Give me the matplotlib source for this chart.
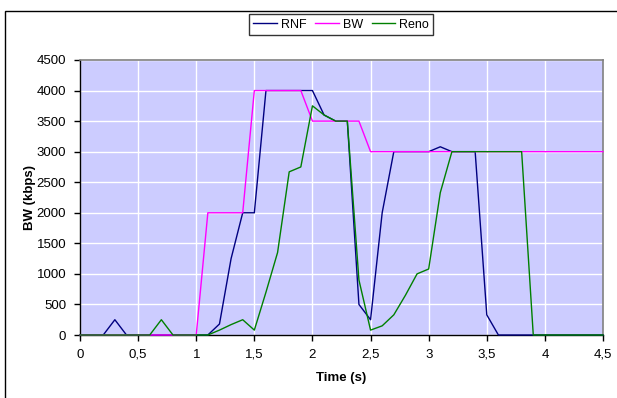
import matplotlib.pyplot as plt
from matplotlib.patches import Rectangle

plt.rcParams['font.family'] = ['Liberation Sans', 'DejaVu Sans']

# time axis (s), one sample every 0.1 s
time = [0.0, 0.1, 0.2, 0.3, 0.4, 0.5, 0.6, 0.7, 0.8, 0.9,
        1.0, 1.1, 1.2, 1.3, 1.4, 1.5, 1.6, 1.7, 1.8, 1.9,
        2.0, 2.1, 2.2, 2.3, 2.4, 2.5, 2.6, 2.7, 2.8, 2.9,
        3.0, 3.1, 3.2, 3.3, 3.4, 3.5, 3.6, 3.7, 3.8, 3.9,
        4.0, 4.1, 4.2, 4.3, 4.4, 4.5]

# bandwidth series (kbps)
rnf = [0, 0, 0, 250, 0, 0, 0, 0, 0, 0,
       0, 0, 180, 1250, 2000, 2000, 4000, 4000, 4000, 4000,
       4000, 3600, 3500, 3500, 500, 250, 2000, 3000, 3000, 3000,
       3000, 3080, 3000, 3000, 3000, 330, 0, 0, 0, 0,
       0, 0, 0, 0, 0, 0]
bw = [0, 0, 0, 0, 0, 0, 0, 0, 0, 0,
      0, 2000, 2000, 2000, 2000, 4000, 4000, 4000, 4000, 4000,
      3500, 3500, 3500, 3500, 3500, 3000, 3000, 3000, 3000, 3000,
      3000, 3000, 3000, 3000, 3000, 3000, 3000, 3000, 3000, 3000,
      3000, 3000, 3000, 3000, 3000, 3000]
reno = [0, 0, 0, 0, 0, 0, 0, 250, 0, 0,
        0, 0, 80, 170, 250, 80, 700, 1350, 2670, 2750,
        3750, 3600, 3500, 3500, 900, 80, 150, 330, 650, 1000,
        1080, 2330, 3000, 3000, 3000, 3000, 3000, 3000, 3000, 0,
        0, 0, 0, 0, 0, 0]

xticks = [0, 0.5, 1, 1.5, 2, 2.5, 3, 3.5, 4, 4.5]
xticklabels = ['0', '0,5', '1', '1,5', '2', '2,5', '3', '3,5', '4', '4,5']
yticks = [0, 500, 1000, 1500, 2000, 2500, 3000, 3500, 4000, 4500]

fig = plt.figure(figsize=(6.17, 3.98), dpi=100)
fig.patch.set_facecolor('white')
ax = fig.add_axes([80/617, 1 - 335/398, (603-80)/617, (335-60)/398])
ax.set_facecolor('#CCCCFF')

# outer chart frame (runs off the right/bottom edge)
fig.patches.append(Rectangle((5/617, -0.1), 1.2, 1.1 - 11/398, transform=fig.transFigure,
                             fill=False, edgecolor='black', lw=1.0, clip_on=False))

ax.plot(time, rnf, color='#000080', lw=1.0, label='RNF', clip_on=False, zorder=3)
ax.plot(time, bw, color='#FF00FF', lw=1.0, label='BW', clip_on=False, zorder=4)
ax.plot(time, reno, color='#008000', lw=1.0, label='Reno', clip_on=False, zorder=5)

ax.set_xlim(0, 4.5)
ax.set_ylim(0, 4500)
ax.set_xticks(xticks)
ax.set_xticklabels(xticklabels)
ax.set_yticks(yticks)
ax.grid(True, color='white', lw=1.0)
ax.set_axisbelow(True)
ax.tick_params(direction='out', length=4, width=1, labelsize=9.5, pad=6)

for side in ['top', 'right']:
    ax.spines[side].set_color('#808080')
    ax.spines[side].set_linewidth(1.2)
for side in ['left', 'bottom']:
    ax.spines[side].set_color('black')
    ax.spines[side].set_linewidth(1.0)

ax.set_xlabel('Time (s)', fontsize=9.5, fontweight='bold', labelpad=8)
ax.set_ylabel('BW (kbps)', fontsize=9.5, fontweight='bold', labelpad=0)

leg = fig.legend(loc='center', bbox_to_anchor=(341/617, 1 - 24.5/398), ncol=3,
                 fontsize=9, frameon=True, fancybox=False, handlelength=1.9,
                 handletextpad=0.3, columnspacing=0.7, borderpad=0.35)
leg.get_frame().set_edgecolor('black')
leg.get_frame().set_linewidth(1.0)

fig.savefig('out.png', dpi=100)
